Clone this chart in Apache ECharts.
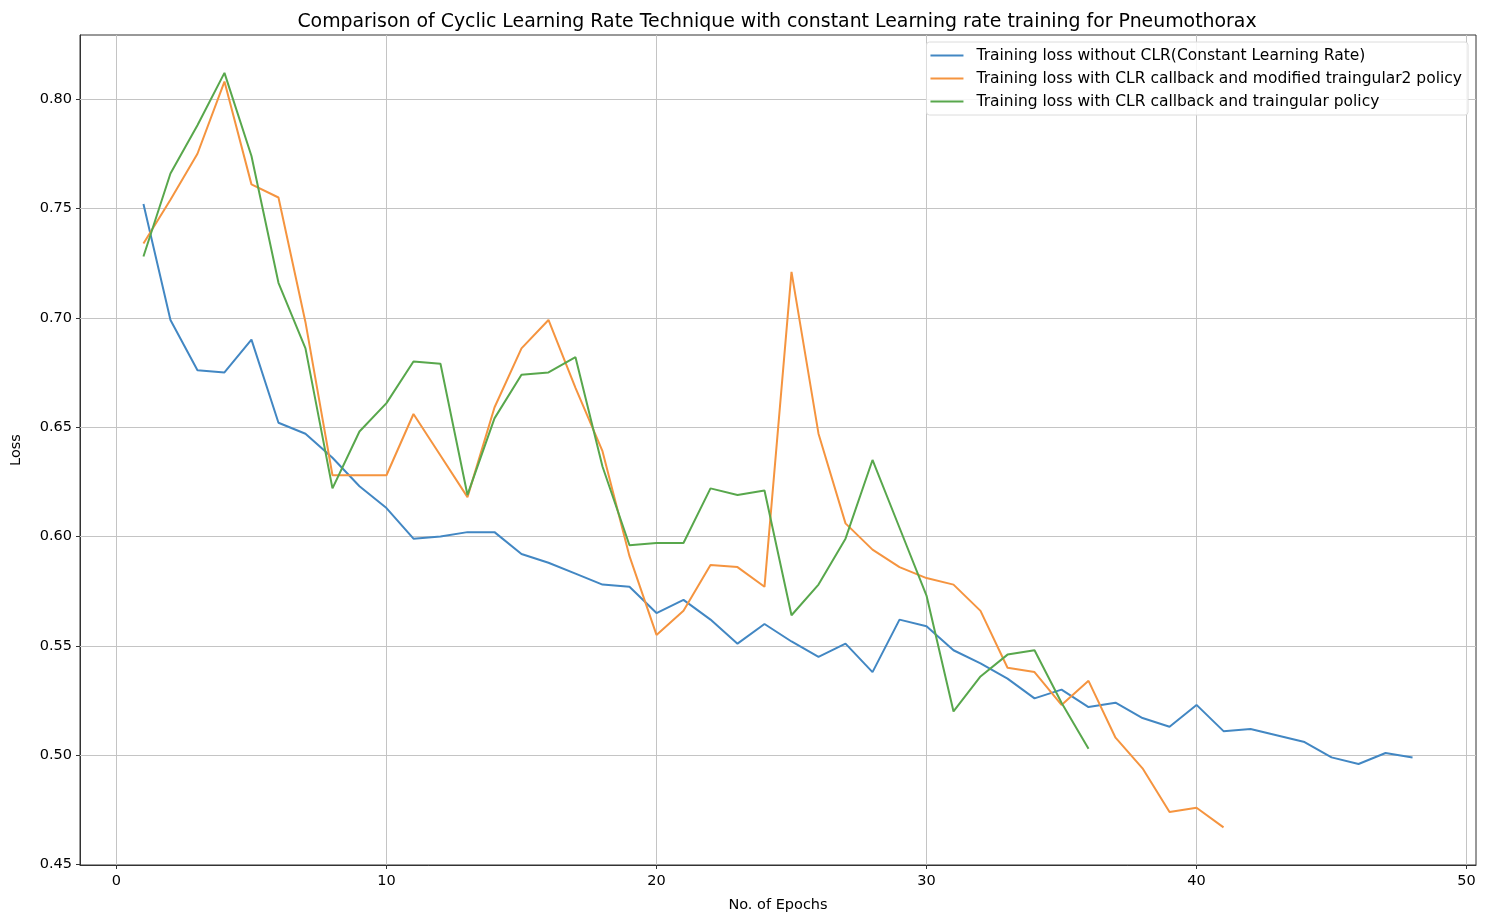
<!DOCTYPE html>
<html>
<head>
<meta charset="utf-8">
<script src="https://cdn.jsdelivr.net/npm/echarts@6/dist/echarts.min.js"></script>
<style>
  html, body { margin: 0; padding: 0; background: #fff; }
  #chart { width: 1491px; height: 918px; }
</style>
</head>
<body>
<div id="chart"></div>
<script>
// Epoch numbers for each run
const epochsConstant = [1,2,3,4,5,6,7,8,9,10,11,12,13,14,15,16,17,18,19,20,21,22,23,24,25,26,27,28,29,30,31,32,33,34,35,36,37,38,39,40,41,42,43,44,45,46,47,48];
const epochsTri2 = [1,2,3,4,5,6,7,8,9,10,11,12,13,14,15,16,17,18,19,20,21,22,23,24,25,26,27,28,29,30,31,32,33,34,35,36,37,38,39,40,41];
const epochsTri = [1,2,3,4,5,6,7,8,9,10,11,12,13,14,15,16,17,18,19,20,21,22,23,24,25,26,27,28,29,30,31,32,33,34,35,36];

// Training loss per epoch
const lossConstant = [0.752,0.699,0.676,0.675,0.690,0.652,0.647,0.636,0.623,0.613,0.599,0.600,0.602,0.602,0.592,0.588,0.583,0.578,0.577,0.565,0.571,0.562,0.551,0.560,0.552,0.545,0.551,0.538,0.562,0.559,0.548,0.542,0.535,0.526,0.530,0.522,0.524,0.517,0.513,0.523,0.511,0.512,0.509,0.506,0.499,0.496,0.501,0.499];
const lossTri2 = [0.734,0.754,0.775,0.808,0.761,0.755,0.698,0.628,0.628,0.628,0.656,0.637,0.618,0.659,0.686,0.699,0.668,0.639,0.591,0.555,0.566,0.587,0.586,0.577,0.721,0.647,0.606,0.594,0.586,0.581,0.578,0.566,0.540,0.538,0.523,0.534,0.508,0.494,0.474,0.476,0.467];
const lossTri = [0.728,0.766,0.788,0.812,0.774,0.716,0.686,0.622,0.648,0.661,0.680,0.679,0.619,0.654,0.674,0.675,0.682,0.632,0.596,0.597,0.597,0.622,0.619,0.621,0.564,0.578,0.599,0.635,0.604,0.573,0.520,0.536,0.546,0.548,0.524,0.503];

// Tick positions
const xTicks = [0, 10, 20, 30, 40, 50];
const yTicks = [0.45, 0.50, 0.55, 0.60, 0.65, 0.70, 0.75, 0.80];

const seriesNames = [
  'Training loss without CLR(Constant Learning Rate)',
  'Training loss with CLR callback and modified traingular2 policy',
  'Training loss with CLR callback and traingular policy'
];
const colors = ['#4287c3', '#f5943f', '#58a74c'];

const FONT = "'DejaVu Sans', sans-serif";
const X_MIN = -1.35, X_MAX = 50.35;
const Y_MIN = 0.4498, Y_MAX = 0.8293;
const gridColor = '#c4c4c4';

function pairs(xs, ys) { return xs.map((x, i) => [x, ys[i]]); }

const chart = echarts.init(document.getElementById('chart'), null, { renderer: 'canvas' });

// Grid lines at the tick positions, drawn beneath the loss curves and the legend
const gridLines = {
  type: 'line', data: [], silent: true, z: 1,
  markLine: {
    z: 1,
    silent: true, symbol: 'none', animation: false,
    label: { show: false },
    lineStyle: { color: gridColor, width: 1, type: 'solid' },
    emphasis: { disabled: true },
    data: xTicks.map(v => ({ xAxis: v })).concat(yTicks.slice(1).map(v => ({ yAxis: v })))
  }
};

chart.setOption({
  animation: false,
  backgroundColor: '#fff',
  title: {
    text: 'Comparison of Cyclic Learning Rate Technique with constant Learning rate training for Pneumothorax',
    left: 772, textAlign: 'center', top: 8,
    textStyle: { fontFamily: FONT, fontSize: 18.9, fontWeight: 'normal', color: '#000' }
  },
  legend: {
    z: 10,
    orient: 'vertical',
    right: 23, top: 42,
    padding: [5, 6, 5, 4],
    itemGap: 6,
    itemWidth: 33, itemHeight: 2,
    icon: 'rect',
    backgroundColor: 'rgba(255,255,255,0.85)',
    borderColor: '#dcdcdc', borderWidth: 1, borderRadius: 3,
    textStyle: { fontFamily: FONT, fontSize: 15.5, color: '#000', lineHeight: 17, padding: [0, 0, 0, 8] },
    data: seriesNames
  },
  grid: {
    left: 80, right: 15, top: 35, bottom: 53,
    show: true, borderColor: '#333', borderWidth: 1, backgroundColor: 'transparent'
  },
  xAxis: {
    type: 'value', min: X_MIN, max: X_MAX, position: 'bottom',
    name: 'No. of Epochs', nameLocation: 'middle', nameGap: 33,
    nameTextStyle: { fontFamily: FONT, fontSize: 14.5, color: '#000' },
    axisLine: { show: true, onZero: false, lineStyle: { color: '#333' } },
    axisTick: { show: true, inside: false, length: 4, customValues: xTicks, lineStyle: { color: '#333' } },
    axisLabel: { show: true, customValues: xTicks, fontFamily: FONT, fontSize: 14.5, color: '#000', margin: 9 },
    splitLine: { show: false }
  },
  yAxis: {
    type: 'value', min: Y_MIN, max: Y_MAX, position: 'left',
    name: 'Loss', nameLocation: 'middle', nameGap: 56, nameRotate: 90,
    nameTextStyle: { fontFamily: FONT, fontSize: 14.5, color: '#000' },
    axisLine: { show: true, onZero: false, lineStyle: { color: '#333' } },
    axisTick: { show: true, inside: false, length: 4, customValues: yTicks, lineStyle: { color: '#333' } },
    axisLabel: { show: true, customValues: yTicks, fontFamily: FONT, fontSize: 14.5, color: '#000', margin: 8,
      formatter: v => v.toFixed(2) },
    splitLine: { show: false }
  },
  series: [gridLines].concat([
    { name: seriesNames[0], type: 'line', data: pairs(epochsConstant, lossConstant) },
    { name: seriesNames[1], type: 'line', data: pairs(epochsTri2, lossTri2) },
    { name: seriesNames[2], type: 'line', data: pairs(epochsTri, lossTri) }
  ].map((s, i) => Object.assign(s, {
    showSymbol: false, symbol: 'none',
    color: colors[i],
    lineStyle: { color: colors[i], width: 2 },
    z: 3
  })))
});
</script>
</body>
</html>
